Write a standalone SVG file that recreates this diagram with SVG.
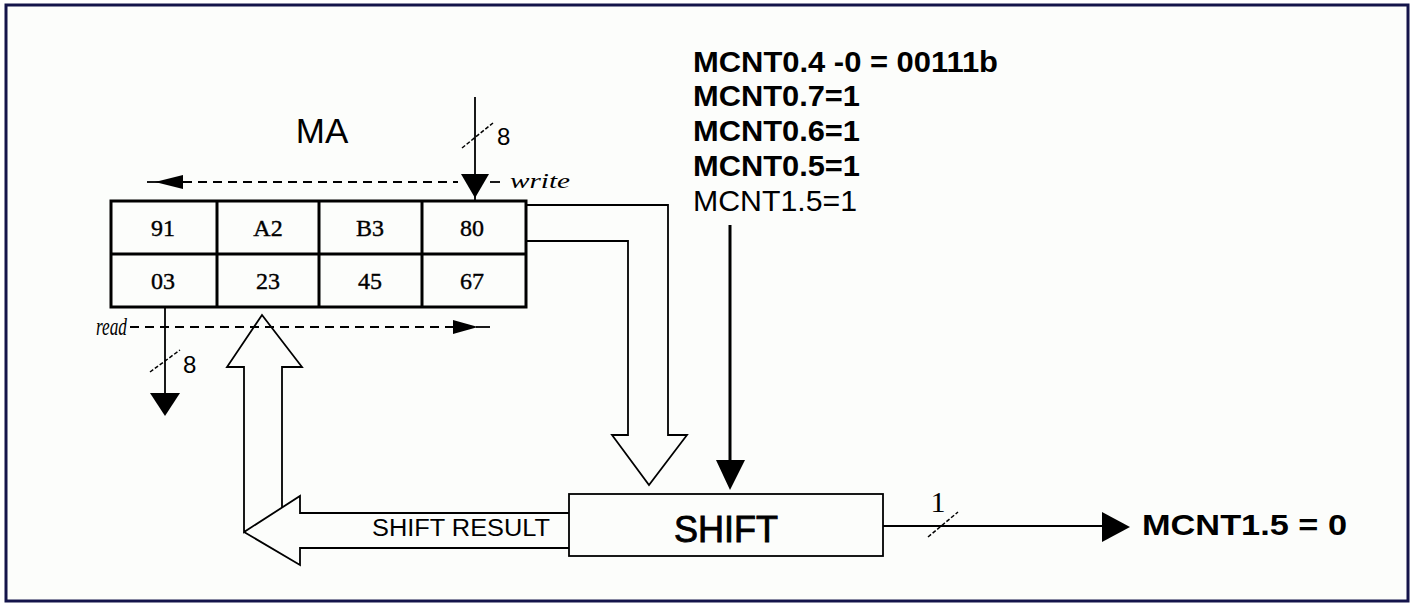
<svg xmlns="http://www.w3.org/2000/svg" width="1413" height="604" viewBox="0 0 1413 604">
<style>
.ln{fill:none;stroke:#000;stroke-width:1.8}
.thick{fill:none;stroke:#000;stroke-width:3}
.dash{fill:none;stroke:#000;stroke-width:1.8;stroke-dasharray:9,6}
.slash{fill:none;stroke:#000;stroke-width:1.5;stroke-dasharray:4,2}
.hd{fill:#000;stroke:none}
.cell{font-family:"Liberation Serif",serif;font-size:24px;text-anchor:middle;fill:#000;stroke:#000;stroke-width:0.4}
.it{font-family:"Liberation Serif",serif;font-style:italic;font-size:22px;fill:#000}
.sans{font-family:"Liberation Sans",Arial,sans-serif;fill:#000}
.bold{font-family:"Liberation Sans",Arial,sans-serif;font-weight:bold;fill:#000}
</style>
<rect x="0" y="0" width="1413" height="604" fill="#ffffff"/>
<rect x="6" y="5" width="1402" height="596" fill="#fcfdfb" stroke="#14144a" stroke-width="3"/>

<g id="ma">
<text class="sans" x="322" y="143" font-size="35" text-anchor="middle">MA</text>
<rect class="thick" x="111" y="201" width="415" height="106"/>
<line class="thick" x1="111" y1="254" x2="526" y2="254"/>
<line class="thick" x1="217" y1="201" x2="217" y2="307"/>
<line class="thick" x1="319" y1="201" x2="319" y2="307"/>
<line class="thick" x1="422" y1="201" x2="422" y2="307"/>
<text class="cell" x="163" y="236">91</text>
<text class="cell" x="268" y="236">A2</text>
<text class="cell" x="370" y="236">B3</text>
<text class="cell" x="472" y="236">80</text>
<text class="cell" x="163" y="289">03</text>
<text class="cell" x="268" y="289">23</text>
<text class="cell" x="370" y="289">45</text>
<text class="cell" x="472" y="289">67</text>
</g>

<g id="shift">
<rect class="ln" x="569" y="494" width="314" height="62" fill="#fff"/>
<text class="sans" x="726" y="542" font-size="36" text-anchor="middle" stroke="#000" stroke-width="0.9">SHIFT</text>
</g>

<g id="conditions">
<text class="bold" x="693" y="72" font-size="29" textLength="305" lengthAdjust="spacingAndGlyphs">MCNT0.4 -0 = 00111b</text>
<text class="bold" x="693" y="106" font-size="29" textLength="167" lengthAdjust="spacingAndGlyphs">MCNT0.7=1</text>
<text class="bold" x="693" y="141" font-size="29" textLength="167" lengthAdjust="spacingAndGlyphs">MCNT0.6=1</text>
<text class="bold" x="693" y="176" font-size="29" textLength="167" lengthAdjust="spacingAndGlyphs">MCNT0.5=1</text>
<text class="sans" x="693" y="211" font-size="29" textLength="164" lengthAdjust="spacingAndGlyphs">MCNT1.5=1</text>
</g>

<g id="result">
<text class="bold" x="1142" y="535" font-size="30" textLength="205" lengthAdjust="spacingAndGlyphs">MCNT1.5 = 0</text>
</g>

<g id="connectors">
<!-- write input -->
<line class="ln" x1="475" y1="97" x2="475" y2="200"/>
<line class="slash" x1="462" y1="148" x2="493" y2="123"/>
<text class="sans" x="497" y="145" font-size="24">8</text>
<polygon class="hd" points="461,174 489,174 475,198"/>
<!-- write direction -->
<line class="dash" x1="183" y1="182" x2="458" y2="182"/>
<line class="ln" x1="490" y1="182" x2="500" y2="182"/>
<line class="ln" x1="147" y1="182" x2="160" y2="182"/>
<polygon class="hd" points="155,182 183,175 183,189"/>
<text class="it" x="510" y="188" textLength="60" lengthAdjust="spacingAndGlyphs">write</text>
<!-- read direction -->
<text class="it" x="96" y="335" style="font-size:25px" textLength="31" lengthAdjust="spacingAndGlyphs">read</text>
<line class="dash" x1="130" y1="327" x2="453" y2="327"/>
<polygon class="hd" points="453,320 453,334 478,327"/>
<line class="ln" x1="476" y1="327" x2="490" y2="327"/>
<!-- read output -->
<line class="ln" x1="165" y1="307" x2="165" y2="400"/>
<line class="slash" x1="150" y1="372" x2="180" y2="350"/>
<text class="sans" x="183" y="373" font-size="24">8</text>
<polygon class="hd" points="150,393 180,393 165,416"/>
<!-- hollow arrow from MA to SHIFT -->
<path class="ln" d="M527,205 H668 V435 H687 L649,485 L612,435 H628 V241 H527"/>
<!-- MCNT arrow -->
<line x1="730" y1="225" x2="730" y2="465" stroke="#000" stroke-width="3"/>
<polygon class="hd" points="716,460 745,460 730,490"/>
<!-- shift result hollow arrow back to MA -->
<path class="ln" d="M569,513 H300 V496 L244,532 V367 H227 L262,315 L302,367 H282 V507.6"/>
<path class="ln" d="M244,532 L300,565 V548 H569"/>
<text class="sans" x="372" y="536" font-size="23" textLength="178" lengthAdjust="spacingAndGlyphs">SHIFT RESULT</text>
<!-- output -->
<line class="ln" x1="883" y1="526" x2="1105" y2="526"/>
<line class="slash" x1="928" y1="537" x2="958" y2="512"/>
<text x="938" y="512" style="font-family:'Liberation Serif',serif;font-size:30px;text-anchor:middle;fill:#000">1</text>
<polygon class="hd" points="1102,512 1102,542 1130,527"/>
</g>
</svg>
